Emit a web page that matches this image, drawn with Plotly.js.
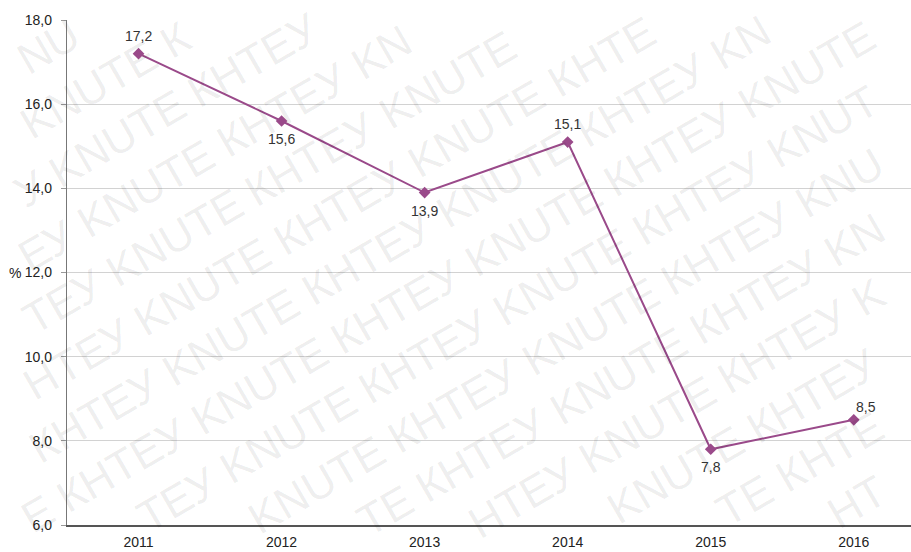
<!DOCTYPE html>
<html>
<head>
<meta charset="utf-8">
<script src="https://cdn.plot.ly/plotly-3.0.1.min.js"></script>
<style>html,body{margin:0;padding:0;background:#fff;}#chart{width:911px;height:552px;}</style>
</head>
<body>
<div id="chart"></div>
<script>
const years = ["2011", "2012", "2013", "2014", "2015", "2016"];
const values = [17.2, 15.6, 13.9, 15.1, 7.8, 8.5];
const labelAbove = [true, false, false, true, false, true];
const yTicks = [6, 8, 10, 12, 14, 16, 18];
const unitLabel = "%";
const watermarkWords = ["KNUTE", "КНТЕУ"];

const lineColor = "#9a4a8a";
const textColor = "#333333";
const fontFamily = "Liberation Sans, Arial, sans-serif";

const W = 911, H = 552;
const M = {l: 67, r: 0, t: 20, b: 27};

const trace = {
  x: years,
  y: values,
  type: "scatter",
  mode: "lines+markers",
  line: {color: lineColor, width: 2},
  marker: {symbol: "diamond", size: 9, color: lineColor},
  cliponaxis: false,
  hoverinfo: "skip"
};

const valueAnnotations = years.map((yr, i) => ({
  text: values[i].toFixed(1).replace(".", ","),
  xref: "x", yref: "y",
  x: i, y: values[i],
  xanchor: "center", yanchor: "middle",
  xshift: i === years.length - 1 ? 12 : 0,
  yshift: labelAbove[i] ? (i === years.length - 1 ? 13 : 18) : -18,
  showarrow: false,
  font: {family: fontFamily, size: 14, color: textColor}
}));

// faint diagonal watermark (decoration), tiled word by word (letter by letter at the edges)
const wmAnnotations = [];
(function () {
  const fs = 44;
  const em = {"K": 0.667, "N": 0.722, "U": 0.722, "T": 0.611, "E": 0.667, "К": 0.62, "Н": 0.722, "Т": 0.611, "Е": 0.667, "У": 0.62};
  const ang = 30 * Math.PI / 180;
  const ux = Math.cos(ang), uy = -Math.sin(ang);
  const vx = Math.sin(ang), vy = Math.cos(ang);
  const step = 158, rowGap = 57, boxH = 50;
  const fits = (px, py, w) => {
    const hx = (w * Math.cos(ang) + boxH * Math.sin(ang)) / 2;
    const hy = (w * Math.sin(ang) + boxH * Math.cos(ang)) / 2;
    return !(px - hx < 1 || px + hx > W - 1 || py - hy < 1 || py + hy > H - 1);
  };
  const add = (txt, px, py) => wmAnnotations.push({
    text: txt,
    xref: "paper", yref: "paper",
    x: (px - M.l) / (W - M.l - M.r),
    y: (H - M.b - py) / (H - M.t - M.b),
    xanchor: "center", yanchor: "middle",
    textangle: -30,
    showarrow: false,
    font: {family: fontFamily, size: fs, color: "rgba(0,0,0,0.075)"}
  });
  const ox = 60, oy = 40;
  for (let r = -25; r <= 25; r++) {
    for (let c = -25; c <= 25; c++) {
      const px = ox + c * step * ux + r * rowGap * vx;
      const py = oy + c * step * uy + r * rowGap * vy;
      const word = watermarkWords[((c % 2) + 2) % 2];
      const letters = Array.from(word);
      const widths = letters.map(ch => em[ch] * fs);
      const total = widths.reduce((a, b) => a + b, 0);
      if (fits(px, py, total)) { add(word, px, py); continue; }
      let acc = -total / 2;
      letters.forEach((ch, k) => {
        const off = acc + widths[k] / 2;
        acc += widths[k];
        const lx = px + off * ux, ly = py + off * uy;
        if (fits(lx, ly, widths[k])) add(ch, lx, ly);
      });
    }
  }
})();

const layout = {
  width: W,
  height: H,
  margin: M,
  paper_bgcolor: "#ffffff",
  plot_bgcolor: "#ffffff",
  separators: ", ",
  showlegend: false,
  font: {family: fontFamily, size: 14, color: textColor},
  xaxis: {
    type: "category",
    range: [-0.5, 5.4],
    showgrid: false,
    showline: true,
    linecolor: "#555555",
    linewidth: 1.5,
    ticks: "",
    ticklabelstandoff: 4,
    tickfont: {family: fontFamily, size: 14, color: "#222222"},
    fixedrange: true
  },
  yaxis: {
    range: [6, 18],
    tickvals: yTicks,
    tickformat: ".1f",
    showgrid: true,
    gridcolor: "#d2d2d2",
    gridwidth: 1,
    showline: true,
    linecolor: "#777777",
    linewidth: 1.2,
    ticks: "outside",
    ticklen: 5,
    tickcolor: "#999999",
    ticklabelstandoff: 6,
    zeroline: false,
    tickfont: {family: fontFamily, size: 14, color: "#222222"},
    fixedrange: true
  },
  annotations: wmAnnotations.concat([
    {
      text: unitLabel,
      xref: "paper", yref: "y",
      x: 0, y: 12,
      xanchor: "right", yanchor: "middle",
      xshift: -44,
      showarrow: false,
      font: {family: fontFamily, size: 14, color: "#222222"}
    }
  ]).concat(valueAnnotations)
};

Plotly.newPlot("chart", [trace], layout, {staticPlot: true, displayModeBar: false});
</script>
</body>
</html>
